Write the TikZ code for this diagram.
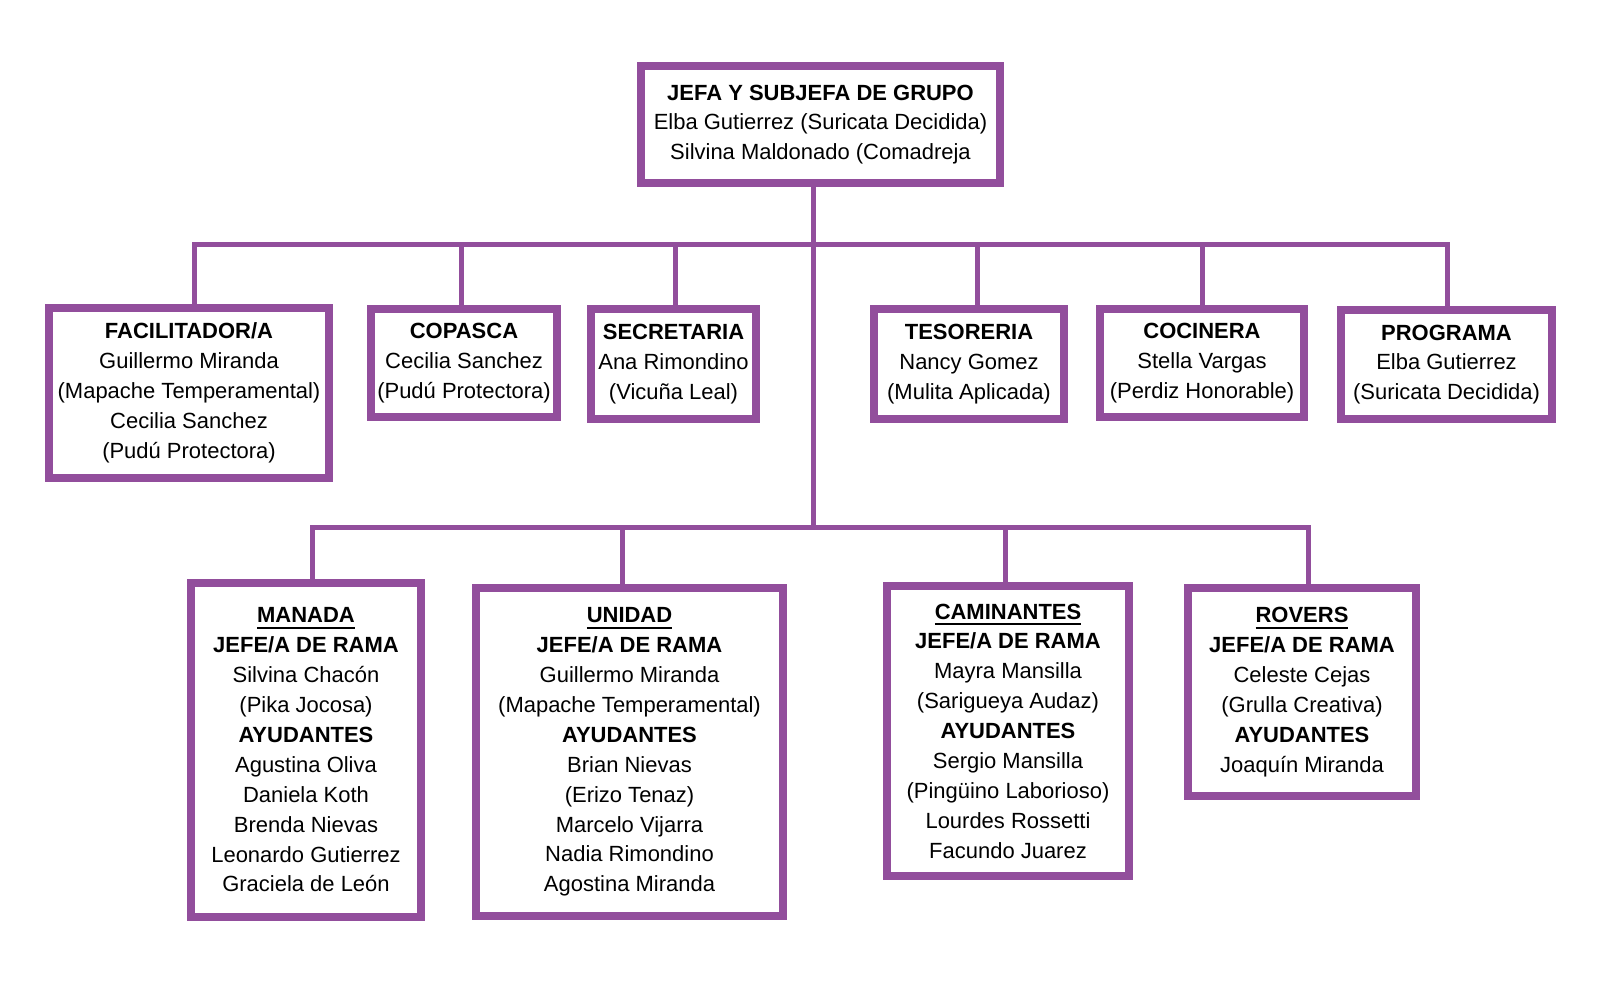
\documentclass[tikz,border=0pt]{standalone}
\usepackage{fontspec}
\setmainfont{Liberation Sans}
\usetikzlibrary{positioning}
\definecolor{morado}{RGB}{146,78,156}

\begin{document}
\begin{tikzpicture}[
    x=0.01cm, y=-0.01cm,
    caja/.style={draw=morado, line width=0.08cm, fill=white, align=center, inner sep=0pt,
        font=\fontsize{6.25}{8.5}\selectfont},
    linea/.style={draw=morado, line width=0.05cm}
]
    \useasboundingbox (0,0) rectangle (1600,1000);

    % Jefatura
    \node[caja, minimum width=3.59cm, minimum height=1.17cm] (jefa) at (820.5,124.5)
        {\textbf{JEFA Y SUBJEFA DE GRUPO}\\Elba Gutierrez (Suricata Decidida)\\Silvina Maldonado (Comadreja};

    % Equipo de grupo
    \node[caja, minimum width=2.80cm, minimum height=1.70cm] (facil) at (189,393)
        {\textbf{FACILITADOR/A}\\Guillermo Miranda\\(Mapache Temperamental)\\Cecilia Sanchez\\(Pudú Protectora)};
    \node[caja, minimum width=1.86cm, minimum height=1.08cm] (copasca) at (464,363)
        {\textbf{COPASCA}\\Cecilia Sanchez\\(Pudú Protectora)};
    \node[caja, minimum width=1.65cm, minimum height=1.10cm] (secre) at (673.5,364)
        {\textbf{SECRETARIA}\\Ana Rimondino\\(Vicuña Leal)};
    \node[caja, minimum width=1.90cm, minimum height=1.10cm] (teso) at (969,364)
        {\textbf{TESORERIA}\\Nancy Gomez\\(Mulita Aplicada)};
    \node[caja, minimum width=2.04cm, minimum height=1.08cm] (cocina) at (1202,363)
        {\textbf{COCINERA}\\Stella Vargas\\(Perdiz Honorable)};
    \node[caja, minimum width=2.11cm, minimum height=1.09cm] (progr) at (1446.5,364.5)
        {\textbf{PROGRAMA}\\Elba Gutierrez\\(Suricata Decidida)};

    % Ramas
    \node[caja, minimum width=2.30cm, minimum height=3.34cm] (manada) at (306,750)
        {\underline{\textbf{MANADA}}\\\textbf{JEFE/A DE RAMA}\\Silvina Chacón\\(Pika Jocosa)\\\textbf{AYUDANTES}\\
         Agustina Oliva\\Daniela Koth\\Brenda Nievas\\Leonardo Gutierrez\\Graciela de León};
    \node[caja, minimum width=3.07cm, minimum height=3.28cm] (unidad) at (629.5,752)
        {\underline{\textbf{UNIDAD}}\\\textbf{JEFE/A DE RAMA}\\Guillermo Miranda\\(Mapache Temperamental)\\\textbf{AYUDANTES}\\
         Brian Nievas\\(Erizo Tenaz)\\Marcelo Vijarra\\Nadia Rimondino\\Agostina Miranda};
    \node[caja, minimum width=2.42cm, minimum height=2.89cm] (camin) at (1008,731)
        {\underline{\textbf{CAMINANTES}}\\\textbf{JEFE/A DE RAMA}\\Mayra Mansilla\\(Sarigueya Audaz)\\\textbf{AYUDANTES}\\
         Sergio Mansilla\\(Pingüino Laborioso)\\Lourdes Rossetti\\Facundo Juarez};
    \node[caja, minimum width=2.28cm, minimum height=2.07cm] (rovers) at (1302,692)
        {\underline{\textbf{ROVERS}}\\\textbf{JEFE/A DE RAMA}\\Celeste Cejas\\(Grulla Creativa)\\\textbf{AYUDANTES}\\Joaquín Miranda};

    % Puntos de las líneas
    \coordinate (tronco) at (813,244);
    \coordinate (tronco2) at (813,527);
    \coordinate (e1) at (194.5,244);
    \coordinate (e2) at (461,244);
    \coordinate (e3) at (675,244);
    \coordinate (e4) at (977,244);
    \coordinate (e5) at (1202.5,244);
    \coordinate (e6) at (1447.5,244);
    \coordinate (r1) at (312.5,527);
    \coordinate (r2) at (622,527);
    \coordinate (r3) at (1005,527);
    \coordinate (r4) at (1308,527);

    % Líneas
    \draw[linea] (jefa.south -| tronco) -- (tronco2);
    \draw[linea] (e1 |- facil.north) -- (e1) -- (e6) -- (e6 |- progr.north);
    \draw[linea] (r1 |- manada.north) -- (r1) -- (r4) -- (r4 |- rovers.north);
    \draw[linea] (e2) -- (e2 |- copasca.north);
    \draw[linea] (e3) -- (e3 |- secre.north);
    \draw[linea] (e4) -- (e4 |- teso.north);
    \draw[linea] (e5) -- (e5 |- cocina.north);
    \draw[linea] (r2) -- (r2 |- unidad.north);
    \draw[linea] (r3) -- (r3 |- camin.north);
\end{tikzpicture}
\end{document}
